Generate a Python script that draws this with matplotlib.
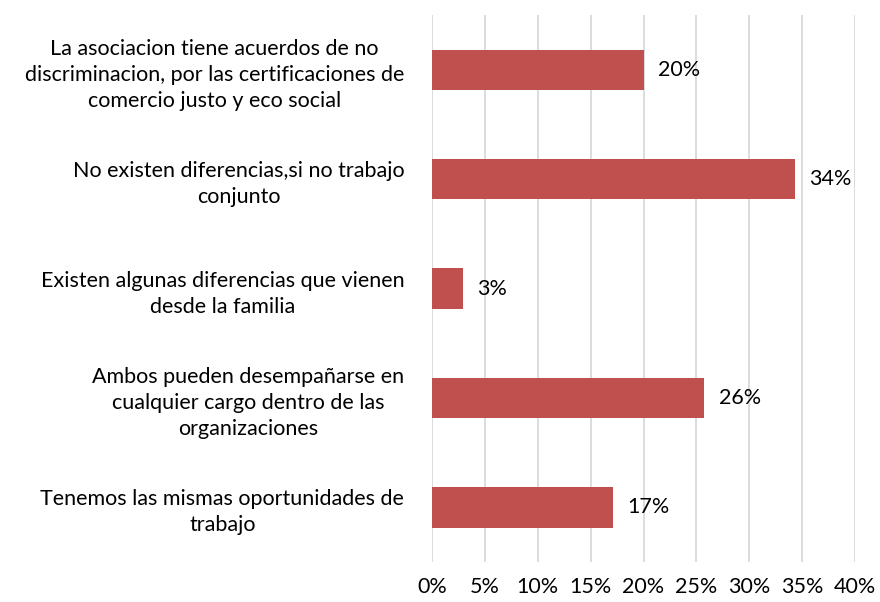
import matplotlib.pyplot as plt
from matplotlib.ticker import MultipleLocator, FuncFormatter

plt.rcParams['font.family'] = ['Lato', 'DejaVu Sans']

# datos (de arriba hacia abajo)
categorias = [
    "La asociacion tiene acuerdos de no\ndiscriminacion, por las certificaciones de\ncomercio justo y eco social",
    "No existen diferencias,si no trabajo\nconjunto",
    "Existen algunas diferencias que vienen\ndesde la familia",
    "Ambos pueden desempañarse en\ncualquier cargo dentro de las\norganizaciones",
    "Tenemos las mismas oportunidades de\ntrabajo",
]
valores = [0.200, 0.343, 0.029, 0.257, 0.171]
etiquetas = ["20%", "34%", "3%", "26%", "17%"]

fig = plt.figure(figsize=(8.8, 6.02), dpi=100)
ax = fig.add_axes([0.491, 0.0664, 0.4806, 0.9086])

pos = list(range(len(categorias)))[::-1]
ax.barh(pos, valores, height=0.37, color='#C0504D', zorder=3)

for p, v, t in zip(pos, valores, etiquetas):
    ax.text(v + 0.014, p, t, va='center', ha='left', fontsize=15.5, color='#000000')

ax.set_xlim(0, 0.40)
ax.set_ylim(-0.5, len(categorias) - 0.5)
ax.xaxis.set_major_locator(MultipleLocator(0.05))
ax.xaxis.set_major_formatter(FuncFormatter(lambda x, _: f"{x*100:.0f}%"))
ax.grid(axis='x', color='#D9D9D9', linewidth=1.3, zorder=0)

ax.set_yticks(pos)
ax.set_yticklabels(categorias, fontsize=15.5, multialignment='center', linespacing=1.38)
ax.tick_params(axis='y', length=0, pad=20)
ax.tick_params(axis='x', length=0, pad=11, labelsize=15.5)

for s in ax.spines.values():
    s.set_visible(False)

plt.savefig('out.png', dpi=100)
